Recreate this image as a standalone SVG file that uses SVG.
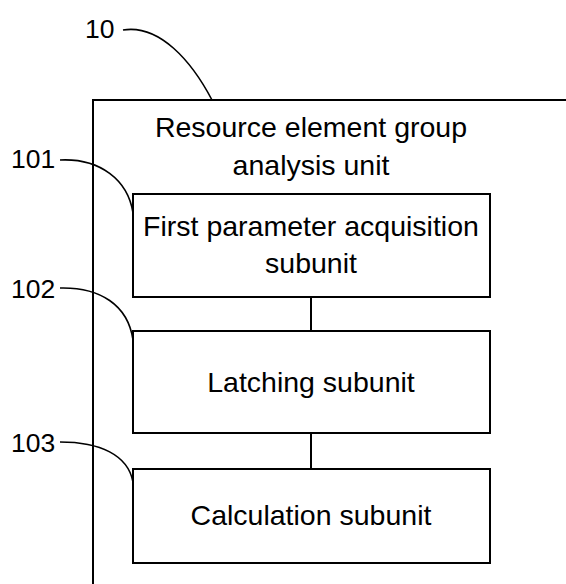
<svg xmlns="http://www.w3.org/2000/svg" width="566" height="584" viewBox="0 0 566 584">
<style>
.box{fill:#fff;stroke:#000;stroke-width:2}
.ln{fill:none;stroke:#000;stroke-width:2}
.ld{fill:none;stroke:#000;stroke-width:1.6}
text{font-family:"Liberation Sans",Arial,sans-serif;font-size:28.5px;fill:#000}
.lb{font-size:26.5px}
.c{text-anchor:middle}
</style>
<rect width="566" height="584" fill="#fff"/>
<g id="unit10">
<path class="ln" d="M93,584 V100 H566"/>
<text class="c" x="311" y="137">Resource element group</text>
<text class="c" x="311" y="175">analysis unit</text>
</g>
<g id="n101">
<rect class="box" x="133" y="194" width="357" height="103"/>
<text class="c" x="311" y="236">First parameter acquisition</text>
<text class="c" x="311" y="273">subunit</text>
</g>
<g id="n102">
<rect class="box" x="133" y="331" width="357" height="102"/>
<text class="c" x="311" y="392">Latching subunit</text>
</g>
<g id="n103">
<rect class="box" x="133" y="469" width="357" height="94"/>
<text class="c" x="311" y="525">Calculation subunit</text>
</g>
<g id="labels">
<text class="lb" x="85" y="38">10</text>
<text class="lb" x="11" y="168">101</text>
<text class="lb" x="11" y="298">102</text>
<text class="lb" x="11" y="452">103</text>
</g>
<g id="connectors">
<path class="ln" d="M311,297 V331"/>
<path class="ln" d="M311,433 V469"/>
<path class="ld" d="M123,30 C160,24 192,62 212,100"/>
<path class="ld" d="M60,160 C100,158 128,180 133,213"/>
<path class="ld" d="M60,288 C100,287 128,305 133,340"/>
<path class="ld" d="M60,442 C100,442 128,455 133,482"/>
</g>
</svg>
